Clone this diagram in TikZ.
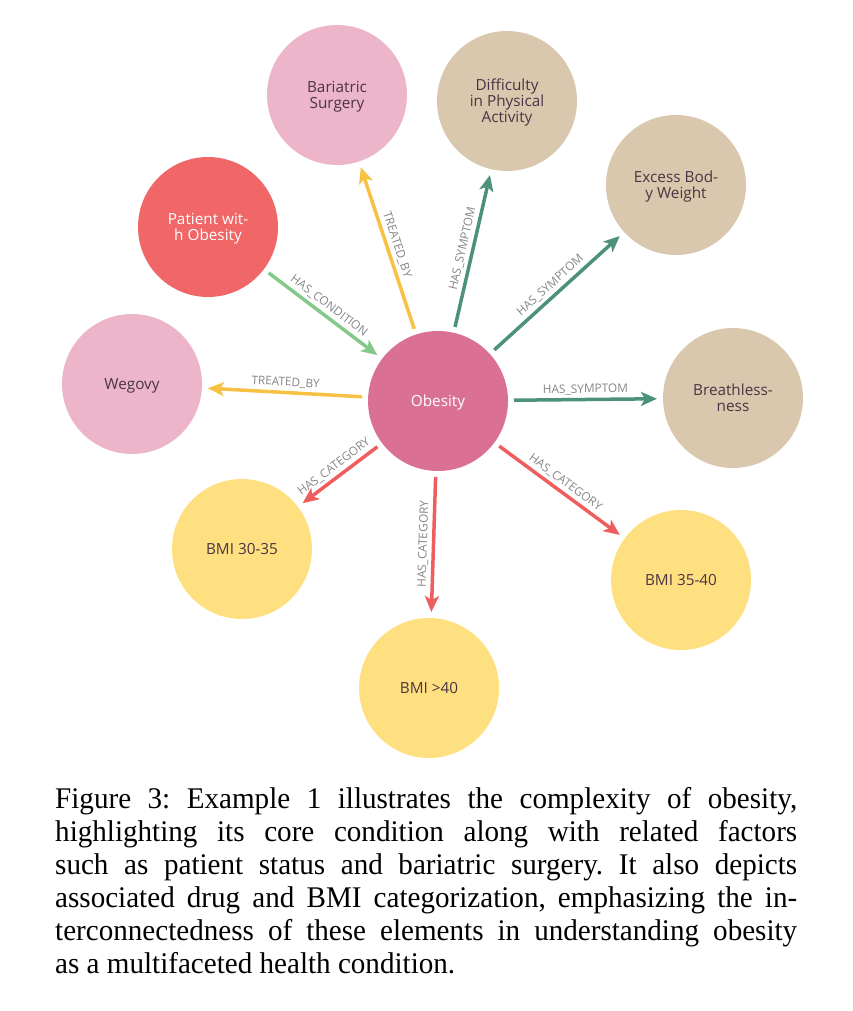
\documentclass[tikz,border=0pt]{standalone}
\usepackage{fontspec}
\setmainfont{Liberation Serif}
\newfontfamily\kgsans{Open Sans}
\newfontfamily\kgcapfont[FakeStretch=0.97]{Liberation Serif}
\usetikzlibrary{arrows.meta, positioning}
\definecolor{kgInk}{HTML}{4A3443}
\definecolor{kgMuted}{HTML}{858585}
\definecolor{kgCore}{HTML}{DA7194}
\definecolor{kgPink}{HTML}{ECB5C9}
\definecolor{kgTan}{HTML}{D9C8AE}
\definecolor{kgRed}{HTML}{F16667}
\definecolor{kgGold}{HTML}{FFE081}
\definecolor{kgTreat}{HTML}{F7C243}
\definecolor{kgCond}{HTML}{84C98A}
\definecolor{kgSym}{HTML}{4D917A}
\definecolor{kgCat}{HTML}{EE5E5F}
\tikzset{
  kgnode/.style={
    circle, fill=#1, minimum size=140pt, inner sep=0pt, outer sep=0pt,
    align=center, text=kgInk, text depth=0pt,
    font=\kgsans\fontsize{15.3}{16}\selectfont,
  },
  kgedge/.style={
    draw=#1, line width=3.5pt, shorten <=6pt, shorten >=6pt,
    -{Stealth[length=16pt, width=14pt, inset=4pt]},
  },
  kglabel/.style={
    sloped, above, text=kgMuted, inner sep=3pt,
    font=\kgsans\fontsize{11.8}{12}\selectfont,
  },
  kgcaption/.style={
    text width=742pt, align=justify, inner sep=0pt, anchor=north west,
    font=\kgcapfont\fontsize{30}{33}\selectfont,
  },
}

\begin{document}
\begin{tikzpicture}[x=1pt, y=-1pt]
\useasboundingbox (0,0) rectangle (852,1011);

% Core and neighbours -----------------------------------------------------
\node[kgnode=kgCore, text=white] (ob) at (438,401) {Obesity};

\node[kgnode=kgPink] (bs) at (337,95)  {Bariatric\\Surgery};
\node[kgnode=kgTan]  (dp) at (507,101) {Difficulty\\in Physical\\Activity};
\node[kgnode=kgTan]  (ew) at (676,185) {Excess Bod-\\y Weight};
\node[kgnode=kgRed, text=white] (pw) at (208,227) {Patient wit-\\h Obesity};
\node[kgnode=kgPink] (wg) at (132,384) {Wegovy};
\node[kgnode=kgTan]  (br) at (733,398) {Breathless-\\ness};
\node[kgnode=kgGold] (b1) at (242,549) {BMI 30-35};
\node[kgnode=kgGold] (b2) at (681,580) {BMI 35-40};
\node[kgnode=kgGold] (b3) at (429,688) {BMI >40};

% Relations ---------------------------------------------------------------
\foreach \a/\b/\c/\t in {ob/bs/kgTreat/TREATED\_BY, ob/wg/kgTreat/TREATED\_BY,
    pw/ob/kgCond/HAS\_CONDITION, ob/dp/kgSym/HAS\_SYMPTOM,
    ob/ew/kgSym/HAS\_SYMPTOM, ob/br/kgSym/HAS\_SYMPTOM,
    ob/b1/kgCat/HAS\_CATEGORY, ob/b2/kgCat/HAS\_CATEGORY,
    ob/b3/kgCat/HAS\_CATEGORY}{%
  \draw[kgedge=\c] (\a) -- node[kglabel] {\t} (\b);
}

% Caption -----------------------------------------------------------------
\node[kgcaption] (cap) at (55,787) {\frenchspacing Figure 3: Example 1
  illustrates the complexity of obesity,\linebreak highlighting its core
  condition along with related factors\linebreak such as patient status and
  bariatric surgery. It also depicts\linebreak associated drug and BMI
  categorization, emphasizing the in-\linebreak terconnectedness of these
  elements in understanding obesity\linebreak as a multifaceted health
  condition.};

\end{tikzpicture}
\end{document}
